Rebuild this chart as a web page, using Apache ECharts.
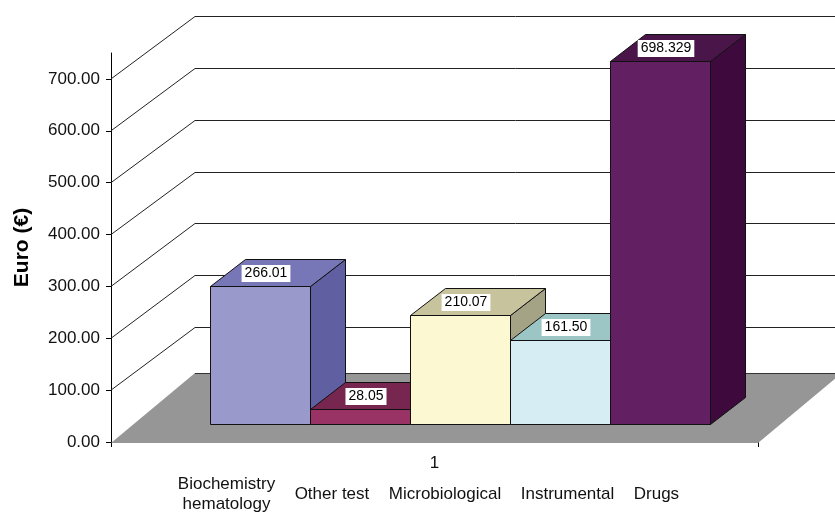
<!DOCTYPE html>
<html>
<head>
<meta charset="utf-8">
<script src="https://cdn.jsdelivr.net/npm/echarts@6/dist/echarts.min.js"></script>
<style>
  html, body { margin: 0; padding: 0; background: #fff; }
  #main { width: 835px; height: 512px; }
</style>
</head>
<body>
<div id="main"></div>
<script>
// data
const categories = ['Biochemistry\nhematology', 'Other test', 'Microbiological', 'Instrumental', 'Drugs'];
const values = [266.01, 28.05, 210.07, 161.50, 698.329];
const valueLabels = ['266.01', '28.05', '210.07', '161.50', '698.329'];
const xTicks = ['1'];
const yTicks = [0, 100, 200, 300, 400, 500, 600, 700];

// front / top / side colours of each box
const faceColors = [
  ['#9999cc', '#7777b8', '#5f5fa2'],
  ['#993366', '#77264f', '#66204a'],
  ['#fcf9d2', '#c6c39d', '#a5a385'],
  ['#d5edf3', '#9cc5c6', '#80a9ab'],
  ['#621f61', '#4a1649', '#3e0a3d']
];

const FONT = 'Liberation Sans, Arial, sans-serif';
const WALL = [84, -63];      // depth of the side wall
const FLOOR = [84, -69];     // depth of the floor
const PLANE = [25.5, -18.5]; // plane where the boxes stand
const DEPTH = [35, -27];     // depth of one box
const BAR_FRAC = 100 / 647;  // box width / band width

const px = v => Math.round(v) + 0.5;

function renderWalls(params, api) {
  const c0 = api.coord([0, 0]);
  const band = api.size([1, 0])[0];
  const x0 = c0[0] - band / 2, x1 = c0[0] + band / 2;
  const y0 = c0[1];
  const children = [];
  children.push({
    type: 'polygon',
    shape: { points: [[x0, y0 + 1], [x1, y0 + 1], [x1 + FLOOR[0], y0 + FLOOR[1]], [x0 + FLOOR[0], y0 + FLOOR[1]]] },
    style: { fill: '#969696', stroke: null }
  });
  children.push({
    type: 'line',
    shape: { x1: x0 + FLOOR[0], y1: px(y0 + FLOOR[1]), x2: x1 + 200, y2: px(y0 + FLOOR[1]) },
    style: { stroke: '#333', lineWidth: 1 }
  });
  yTicks.slice(1).forEach(v => {
    const y = api.coord([0, v])[1];
    children.push({
      type: 'polyline',
      shape: { points: [[x0, y], [x0 + WALL[0], px(y + WALL[1])], [x1 + 200, px(y + WALL[1])]] },
      style: { stroke: '#222', lineWidth: 1, fill: null }
    });
  });
  return { type: 'group', children };
}

function makeBar(i) {
  return {
    name: categories[i],
    type: 'custom',
    z: 3,
    silent: true,
    itemStyle: { color: faceColors[i][0] },
    data: [[0, values[i]]],
    renderItem(params, api) {
      const base = api.coord([0, 0]);
      const top = api.coord([0, api.value(1)]);
      const band = api.size([1, 0])[0];
      const w = band * BAR_FRAC;
      const cx = base[0] + PLANE[0] + (i - (values.length - 1) / 2) * w;
      const l = px(cx - w / 2), r = px(cx + w / 2);
      const yb = px(base[1] + PLANE[1]), yt = px(top[1] + PLANE[1]);
      const dx = DEPTH[0], dy = DEPTH[1];
      const stroke = { stroke: '#111', lineWidth: 1, lineJoin: 'round' };
      return {
        type: 'group',
        children: [
          { type: 'polygon', shape: { points: [[r, yt], [r + dx, yt + dy], [r + dx, yb + dy], [r, yb]] },
            style: Object.assign({ fill: faceColors[i][2] }, stroke) },
          { type: 'polygon', shape: { points: [[l, yt], [l + dx, yt + dy], [r + dx, yt + dy], [r, yt]] },
            style: Object.assign({ fill: faceColors[i][1] }, stroke) },
          { type: 'rect', shape: { x: l, y: yt, width: r - l, height: yb - yt },
            style: Object.assign({ fill: faceColors[i][0] }, stroke) },
          { type: 'text', x: cx + 6, y: yt - 13, z2: 10,
            style: { text: valueLabels[i], font: '14px ' + FONT, fill: '#000',
                     align: 'center', verticalAlign: 'middle',
                     backgroundColor: '#fff', padding: [2, 3, 1, 3] } }
        ]
      };
    }
  };
}

const chart = echarts.init(document.getElementById('main'));
chart.setOption({
  animation: false,
  backgroundColor: '#fff',
  textStyle: { fontFamily: FONT },
  grid: { left: 111, right: 77, top: 53, bottom: 70, outerBoundsMode: 'none' },
  legend: {
    data: categories,
    left: 173,
    top: 476,
    padding: 0,
    itemWidth: 0,
    itemHeight: 0,
    itemGap: 14.5,
    selectedMode: false,
    itemStyle: { opacity: 0 },
    textStyle: {
      fontFamily: FONT, fontSize: 17, color: '#111',
      rich: { c: { width: 97, align: 'center', fontFamily: FONT, fontSize: 17, lineHeight: 20, color: '#111' } }
    },
    formatter: n => n.indexOf('\n') >= 0 ? n.split('\n').map(s => '{c|' + s + '}').join('\n') : n
  },
  xAxis: {
    type: 'category',
    data: xTicks,
    boundaryGap: true,
    axisLine: { lineStyle: { color: '#000', width: 1 } },
    axisTick: { show: true, length: 5, lineStyle: { color: '#000' } },
    axisLabel: { margin: 13, fontSize: 17, color: '#111', fontFamily: FONT },
    splitLine: { show: false }
  },
  yAxis: {
    type: 'value',
    min: 0,
    max: 750,
    interval: 100,
    name: 'Euro (€)',
    nameLocation: 'middle',
    nameGap: 78,
    nameTextStyle: { fontSize: 21, fontWeight: 'bold', color: '#000', fontFamily: FONT },
    axisLine: { show: true, lineStyle: { color: '#000', width: 1 } },
    axisTick: { show: true, length: 5, customValues: yTicks, lineStyle: { color: '#000' } },
    axisLabel: { customValues: yTicks, margin: 11, fontSize: 17, color: '#111', fontFamily: FONT,
                 formatter: v => v.toFixed(2) },
    splitLine: { show: false }
  },
  series: [
    { name: 'walls', type: 'custom', z: 1, silent: true, data: [[0, 0]], renderItem: renderWalls }
  ].concat(values.map((v, i) => makeBar(i)))
});
</script>
</body>
</html>
